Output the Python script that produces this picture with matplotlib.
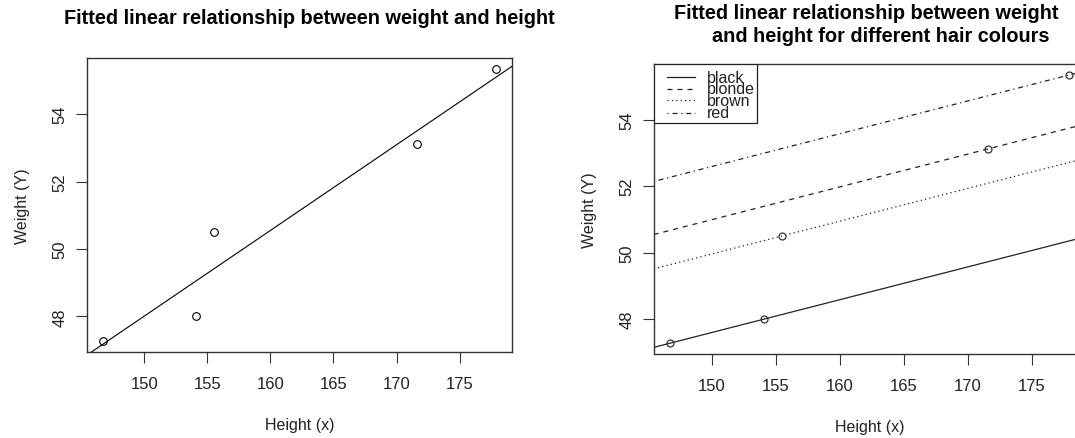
import numpy as np
import matplotlib.pyplot as plt
from matplotlib.patches import Rectangle
from matplotlib.lines import Line2D

plt.rcParams['font.family'] = ['Liberation Sans', 'DejaVu Sans']

# data
height = [146.7, 154.1, 155.5, 171.6, 177.9]
weight = [47.27, 48.0, 50.5, 53.12, 55.34]
hair = ['black', 'black', 'brown', 'blonde', 'red']
hair_levels = ['black', 'blonde', 'brown', 'red']
xticks = [150, 155, 160, 165, 170, 175]
yticks = [48, 50, 52, 54]

x = np.array(height)
y = np.array(weight)

# R style axis range (4% padding)
xlim = (x.min() - 0.04 * np.ptp(x), x.max() + 0.04 * np.ptp(x))
ylim = (y.min() - 0.04 * np.ptp(y), y.max() + 0.04 * np.ptp(y))

# simple fit
b1, b0 = np.polyfit(x, y, 1)

# parallel lines model: weight ~ height + hair
X = np.column_stack([x] + [[1.0 if h == lev else 0.0 for h in hair] for lev in hair_levels])
coef = np.linalg.lstsq(X, y, rcond=None)[0]
slope = coef[0]
intercepts = coef[1:]

styles = {'black': None, 'blonde': (4, 4), 'brown': (1, 2.5), 'red': (1, 3, 4, 3)}

TXT = '#222222'
FS = 11.5
TFS = 14.3

fig = plt.figure(figsize=(10.75, 4.39), dpi=100)
fig.patch.set_facecolor('white')


def style_axes(ax):
    ax.set_xlim(xlim)
    ax.set_ylim(ylim)
    ax.set_xticks(xticks)
    ax.set_yticks(yticks)
    ax.tick_params(direction='out', length=8, width=0.8, colors='#333333',
                   labelcolor=TXT, labelsize=12)
    ax.tick_params(axis='x', pad=9)
    ax.tick_params(axis='y', pad=6)
    for lab in ax.get_yticklabels():
        lab.set_rotation(90)
        lab.set_va('center')
    for s in ax.spines.values():
        s.set_color('#333333')
        s.set_linewidth(1.0)
    ax.set_xlabel('Height (x)', fontsize=FS, color=TXT, labelpad=19)
    ax.set_ylabel('Weight (Y)', fontsize=FS, color=TXT, labelpad=16)


# left panel
ax1 = fig.add_axes([0.0809, 0.1959, 0.3953, 0.6697])
ax1.plot(x, y, 'o', mfc='none', mec='black', ms=5.5, mew=0.8)
xx = np.array(xlim)
ax1.plot(xx, b0 + b1 * xx, color='black', lw=0.8)
style_axes(ax1)
fig.text(0.2875, 0.957, 'Fitted linear relationship between weight and height',
         ha='center', va='center', fontsize=TFS, fontweight='bold')

# right panel (cut off at the right edge)
ax2 = fig.add_axes([0.6081, 0.1913, 0.4012, 0.660])
for lev, b in zip(hair_levels, intercepts):
    ln, = ax2.plot(xx, b + slope * xx, color='#222222', lw=0.9)
    if styles[lev] is not None:
        ln.set_dashes(styles[lev])
ax2.plot(x, y, 'o', mfc='none', mec='#333333', ms=5, mew=0.9)
style_axes(ax2)
fig.text(0.806, 0.970, 'Fitted linear relationship between weight',
         ha='center', va='center', fontsize=TFS, fontweight='bold')
fig.text(0.8195, 0.916, 'and height for different hair colours',
         ha='center', va='center', fontsize=TFS, fontweight='bold')

# legend box
ax2.add_patch(Rectangle((0, 0.796), 0.240, 0.204, transform=ax2.transAxes,
                        fill=True, fc='white', ec='#222222', lw=0.9, zorder=5))
rows = [0.956, 0.915, 0.875, 0.832]
for lev, ry in zip(hair_levels, rows):
    ln = Line2D([0.030, 0.096], [ry, ry], transform=ax2.transAxes,
                color='#222222', lw=0.9, zorder=6)
    if styles[lev] is not None:
        ln.set_dashes(styles[lev])
    ax2.add_line(ln)
    ax2.text(0.123, ry, lev, transform=ax2.transAxes, fontsize=11.5,
             color=TXT, va='center', ha='left', zorder=6)

fig.savefig('out.png', dpi=100)
